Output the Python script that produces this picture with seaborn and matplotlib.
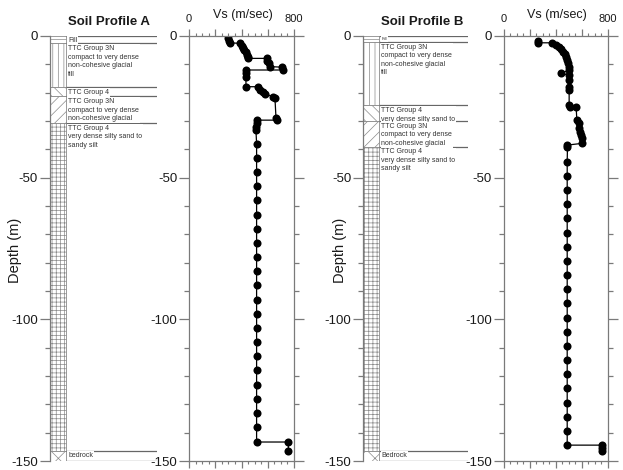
import numpy as np
import pandas as pd
import matplotlib
matplotlib.use("Agg")
import matplotlib.pyplot as plt
from matplotlib.patches import Rectangle
from matplotlib.ticker import MultipleLocator
import seaborn as sns

# ---------------------------------------------------------------------------
# Shear-wave velocity profiles (Vs in m/sec, depth in m, negative downward)
# ---------------------------------------------------------------------------
vs_a = [300, 305, 310, 390, 400, 412, 422, 432, 440, 446, 452,
        592, 598, 607, 617, 706, 714,
        434, 434, 434, 434, 528, 540, 566, 578, 643, 655,
        663, 673, 521, 515, 510, 510] + [515] * 22 + [757, 757]
depth_a = [-0.8, -1.6, -2.4, -2.6, -3.4, -4.2, -5.0, -5.8, -6.6, -7.4, -7.9,
           -7.9, -8.8, -9.6, -10.8, -11.0, -12.0,
           -12.0, -13.2, -14.4, -17.9, -17.9, -19.1, -19.7, -20.5, -21.4, -22.0,
           -29.1, -29.7, -29.7, -30.8, -32.0, -33.2] + \
          [-38.0, -43.0, -48.0, -53.0, -58.0, -63.0, -68.0, -73.0, -78.0, -83.0,
           -88.0, -93.0, -98.0, -103.0, -108.0, -113.0, -118.0, -123.0, -128.0,
           -133.0, -138.0, -143.3] + [-143.3, -146.4]

vs_b = [268, 268, 371, 405, 428, 443, 461, 474, 482, 487, 495, 502, 505,
        443, 505, 505, 505, 505, 505, 512, 559,
        564, 577, 584, 590, 595, 603, 603, 492, 492] + [490] * 21 + [757, 757, 757]
depth_b = [-1.6, -2.4, -2.4, -3.2, -4.0, -4.7, -5.5, -6.4, -7.3, -8.5, -9.6, -10.8, -12.0,
           -13.2, -13.8, -15.4, -17.9, -19.1, -24.4, -25.2, -25.2,
           -29.6, -30.8, -32.6, -33.8, -34.9, -36.1, -37.9, -38.5, -39.3] + \
          [-44.4, -49.4, -54.4, -59.4, -64.4, -69.4, -74.4, -79.4, -84.4, -89.4,
           -94.4, -99.4, -104.4, -109.4, -114.4, -119.4, -124.4, -129.4, -134.4,
           -139.4, -144.4] + [-144.4, -145.4, -146.5]

# ---------------------------------------------------------------------------
# Soil layers: top depth of each layer, bottom of the profile, and descriptions
# ---------------------------------------------------------------------------
layer_tops_a = [0.0, -2.5, -18.0, -21.2, -30.7, -146.5]
layer_tops_b = [0.0, -2.0, -24.4, -29.9, -39.0, -146.5]
profile_bottom = -150.0

layer_labels_a = ["Fill",
                  "TTC Group 3N\ncompact to very dense\nnon-cohesive glacial\ntill",
                  "TTC Group 4",
                  "TTC Group 3N\ncompact to very dense\nnon-cohesive glacial",
                  "TTC Group 4\nvery dense silty sand to\nsandy silt",
                  "bedrock"]
layer_labels_b = ["Fill",
                  "TTC Group 3N\ncompact to very dense\nnon-cohesive glacial\ntill",
                  "TTC Group 4\nvery dense silty sand to",
                  "TTC Group 3N\ncompact to very dense\nnon-cohesive glacial",
                  "TTC Group 4\nvery dense silty sand to\nsandy silt",
                  "Bedrock"]

# column patterns used for each layer of the logs
hatches = ["----", "|||", "\\\\\\", "///", "++++", "xx"]

sns.set_style("ticks")
plt.rcParams["font.family"] = ["Liberation Sans", "DejaVu Sans"]
plt.rcParams["hatch.linewidth"] = 0.5

GREY = "#7a7a7a"
LINE = "#666666"
TXT = "#1a1a1a"

fig = plt.figure(figsize=(6.23, 4.70), dpi=100)

bottom_f = 1 - 461 / 470
height_f = (461 - 36) / 470

ax_soil_a = fig.add_axes([49.5 / 623, bottom_f, 107.5 / 623, height_f])
ax_vs_a = fig.add_axes([189 / 623, bottom_f, 105 / 623, height_f])
ax_soil_b = fig.add_axes([363 / 623, bottom_f, 105 / 623, height_f])
ax_vs_b = fig.add_axes([503.5 / 623, bottom_f, 104 / 623, height_f])


def depth_ticks(ax, show_right=False):
    ax.set_ylim(profile_bottom, 0)
    ax.yaxis.set_major_locator(MultipleLocator(50))
    ax.yaxis.set_minor_locator(MultipleLocator(10))
    ax.tick_params(axis="y", which="major", direction="out", length=7, width=0.9,
                   color=GREY, labelsize=9.5, labelcolor=TXT, pad=1.5,
                   left=True, right=show_right, labelright=False)
    ax.tick_params(axis="y", which="minor", direction="out", length=3.5, width=0.9,
                   color=GREY, left=True, right=show_right)
    ax.set_yticklabels([f"{int(v)}" for v in ax.get_yticks()])


def soil_log(ax, tops, labels, title, fill_size):
    ax.set_xlim(0, 1)
    depth_ticks(ax)
    for side in ["top", "right", "bottom"]:
        ax.spines[side].set_visible(False)
    ax.spines["left"].set_color(GREY)
    ax.spines["left"].set_linewidth(0.9)
    ax.set_xticks([])
    col_w = 0.15
    bottoms = tops[1:] + [profile_bottom]
    for top, bot, hatch in zip(tops, bottoms, hatches):
        ax.add_patch(Rectangle((0, bot), col_w, top - bot, facecolor="white",
                               edgecolor="#8a8a8a", hatch=hatch, lw=0.6, zorder=1))
    for y in tops + [profile_bottom]:
        ax.plot([col_w, 1.0], [y, y], color=LINE, lw=0.9, zorder=2,
                solid_capstyle="butt")
    for i, (top, lab) in enumerate(zip(tops, labels)):
        size = fill_size if i == 0 else 5.0
        off = 0.3 if i in (0, len(tops) - 1) else 0.7
        ax.text(0.175, top - off, lab, fontsize=size, va="top", ha="left",
                color="#333333", linespacing=1.3, zorder=3,
                bbox=dict(facecolor="white", edgecolor="none", pad=0.6))
    ax.text(0.175, 1.032, title, transform=ax.transAxes, fontsize=9.5,
            fontweight="bold", ha="left", va="center", color=TXT)
    ax.set_ylabel("")


def velocity_panel(ax, vs, depth):
    df = pd.DataFrame({"Vs": vs, "Depth": depth})
    sns.lineplot(data=df, x="Vs", y="Depth", sort=False, estimator=None,
                 color="black", lw=0.9, marker="o", markersize=5.8,
                 markeredgewidth=0, ax=ax)
    ax.set_xlim(0, 800)
    depth_ticks(ax, show_right=True)
    for s in ax.spines.values():
        s.set_color(GREY)
        s.set_linewidth(0.9)
    ax.set_xticks([0, 200, 400, 600, 800])
    ax.set_xticklabels(["0", "", "", "", "800"])
    ax.xaxis.set_minor_locator(MultipleLocator(50))
    ax.tick_params(axis="x", which="major", top=True, bottom=True, labeltop=True,
                   labelbottom=False, direction="out", length=5, width=0.9,
                   color=GREY, labelsize=8, labelcolor=TXT, pad=4)
    ax.tick_params(axis="x", which="minor", top=True, bottom=True,
                   direction="out", length=2.5, width=0.8, color=GREY)
    ax.set_xlabel("")
    ax.set_ylabel("")
    ax.text(0.51, 1.05, "Vs (m/sec)", transform=ax.transAxes, fontsize=9,
            ha="center", va="center", color=TXT)


soil_log(ax_soil_a, layer_tops_a, layer_labels_a, "Soil Profile A", 5.0)
soil_log(ax_soil_b, layer_tops_b, layer_labels_b, "Soil Profile B", 3.2)
velocity_panel(ax_vs_a, vs_a, depth_a)
velocity_panel(ax_vs_b, vs_b, depth_b)

fig.text(15 / 623, 1 - 250 / 470, "Depth (m)", rotation=90, fontsize=10.5,
         ha="center", va="center", color=TXT)
fig.text(340 / 623, 1 - 250 / 470, "Depth (m)", rotation=90, fontsize=10.5,
         ha="center", va="center", color=TXT)

fig.savefig("out.png", dpi=100, facecolor="white")
